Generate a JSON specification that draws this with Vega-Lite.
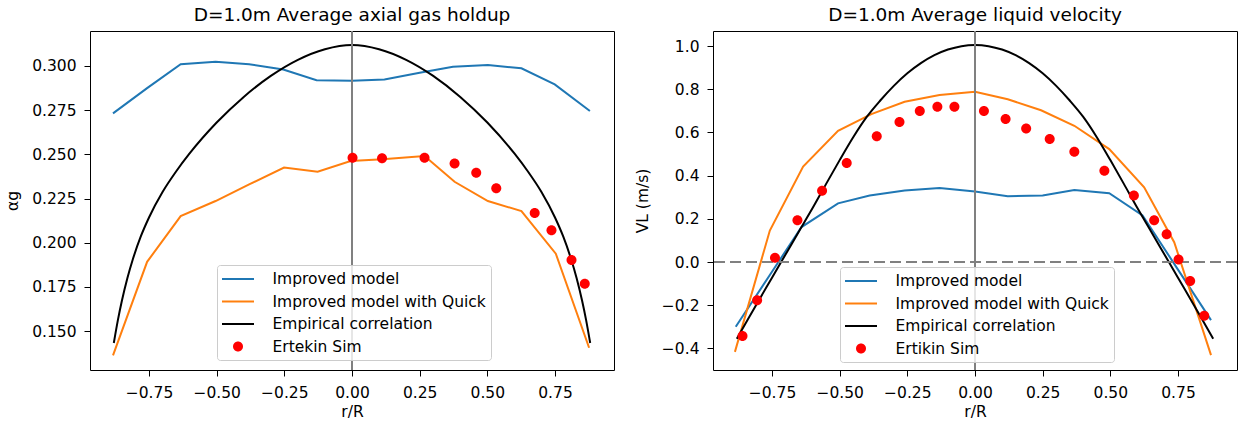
{
  "$schema": "https://vega.github.io/schema/vega-lite/v6.json",
  "padding": {"left": 5, "top": 5, "right": 0, "bottom": 0},
  "background": "white",
  "spacing": 99,
  "bounds": "flush",
  "resolve": {"scale": {"stroke": "independent", "fill": "independent", "shape": "independent"}, "legend": {"fill": "independent", "shape": "independent"}},
  "config": {
    "font": "DejaVu Sans",
    "view": {"stroke": "#000000", "strokeWidth": 1},
    "axis": {"domain": false, "grid": false, "tickColor": "#000000", "tickSize": 6, "tickWidth": 1,
      "labelFont": "DejaVu Sans", "labelFontSize": 15.5, "labelColor": "#000000",
      "titleFont": "DejaVu Sans", "titleFontSize": 15.5, "titleFontWeight": "normal", "titleColor": "#000000",
      "labelFlush": false, "labelOverlap": false, "labelBound": false},
    "axisY": {"titlePadding": 11, "labelPadding": 8},
    "axisX": {"titlePadding": 4, "labelPadding": 9},
    "title": {"font": "DejaVu Sans", "fontSize": 18.5, "fontWeight": "normal", "color": "#000000", "offset": 6, "frame": "group"},
    "legend": {"labelFont": "DejaVu Sans", "labelFontSize": 15.5, "labelColor": "#000000", "symbolSize": 361,
      "symbolStrokeWidth": 0, "strokeColor": "#cccccc", "strokeWidth": 1, "fillColor": "rgba(255,255,255,0.8)", "padding": 4.5,
      "rowPadding": 4.5, "symbolOffset": 7, "labelOffset": 25, "cornerRadius": 3, "labelLimit": 400, "symbolOpacity": 1}
  },
  "hconcat": [
    {
      "width": 524,
      "height": 339,
      "title": {"text": "D=1.0m Average axial gas holdup"},
      "layer": [
        {
          "data": {"values": [
            {"x": -0.883, "y": 0.2732, "s": "Improved model"},
            {"x": -0.757, "y": 0.2875, "s": "Improved model"},
            {"x": -0.633, "y": 0.3010, "s": "Improved model"},
            {"x": -0.504, "y": 0.3024, "s": "Improved model"},
            {"x": -0.380, "y": 0.3010, "s": "Improved model"},
            {"x": -0.254, "y": 0.2980, "s": "Improved model"},
            {"x": -0.131, "y": 0.2919, "s": "Improved model"},
            {"x": 0.000, "y": 0.2917, "s": "Improved model"},
            {"x": 0.120, "y": 0.2923, "s": "Improved model"},
            {"x": 0.250, "y": 0.2962, "s": "Improved model"},
            {"x": 0.373, "y": 0.2996, "s": "Improved model"},
            {"x": 0.502, "y": 0.3006, "s": "Improved model"},
            {"x": 0.626, "y": 0.2987, "s": "Improved model"},
            {"x": 0.749, "y": 0.2896, "s": "Improved model"},
            {"x": 0.879, "y": 0.2745, "s": "Improved model"},
            {"x": -0.883, "y": 0.1363, "s": "Improved model with Quick"},
            {"x": -0.757, "y": 0.1892, "s": "Improved model with Quick"},
            {"x": -0.633, "y": 0.2151, "s": "Improved model with Quick"},
            {"x": -0.504, "y": 0.2236, "s": "Improved model with Quick"},
            {"x": -0.380, "y": 0.2330, "s": "Improved model with Quick"},
            {"x": -0.251, "y": 0.2425, "s": "Improved model with Quick"},
            {"x": -0.127, "y": 0.2402, "s": "Improved model with Quick"},
            {"x": -0.005, "y": 0.2462, "s": "Improved model with Quick"},
            {"x": 0.113, "y": 0.2472, "s": "Improved model with Quick"},
            {"x": 0.268, "y": 0.2491, "s": "Improved model with Quick"},
            {"x": 0.379, "y": 0.2345, "s": "Improved model with Quick"},
            {"x": 0.502, "y": 0.2236, "s": "Improved model with Quick"},
            {"x": 0.626, "y": 0.2179, "s": "Improved model with Quick"},
            {"x": 0.753, "y": 0.1938, "s": "Improved model with Quick"},
            {"x": 0.876, "y": 0.1406, "s": "Improved model with Quick"}
          ]},
          "mark": {"type": "line", "strokeWidth": 2},
          "encoding": {
            "x": {"field": "x", "type": "quantitative", "scale": {"domain": [-0.968, 0.968], "nice": false, "zero": false},
              "axis": {"title": "r/R", "values": [-0.75, -0.5, -0.25, 0, 0.25, 0.5, 0.75], "format": ".2f"}},
            "y": {"field": "y", "type": "quantitative", "scale": {"domain": [0.128, 0.3198], "nice": false, "zero": false},
              "axis": {"title": "αg", "values": [0.15, 0.175, 0.2, 0.225, 0.25, 0.275, 0.3], "format": ".3f"}},
            "stroke": {"field": "s", "type": "nominal",
              "scale": {"domain": ["Improved model", "Improved model with Quick", "Empirical correlation"], "range": ["#1f77b4", "#ff7f0e", "#000000"]},
              "legend": null}
          }
        },
        {
          "data": {"values": [
            {"x": -0.880, "y": 0.1433, "s": "Empirical correlation"},
            {"x": -0.865, "y": 0.1562, "s": "Empirical correlation"},
            {"x": -0.850, "y": 0.1673, "s": "Empirical correlation"},
            {"x": -0.830, "y": 0.1799, "s": "Empirical correlation"},
            {"x": -0.810, "y": 0.1905, "s": "Empirical correlation"},
            {"x": -0.780, "y": 0.2037, "s": "Empirical correlation"},
            {"x": -0.750, "y": 0.2143, "s": "Empirical correlation"},
            {"x": -0.700, "y": 0.2287, "s": "Empirical correlation"},
            {"x": -0.650, "y": 0.2403, "s": "Empirical correlation"},
            {"x": -0.600, "y": 0.2505, "s": "Empirical correlation"},
            {"x": -0.500, "y": 0.2680, "s": "Empirical correlation"},
            {"x": -0.400, "y": 0.2825, "s": "Empirical correlation"},
            {"x": -0.300, "y": 0.2944, "s": "Empirical correlation"},
            {"x": -0.200, "y": 0.3035, "s": "Empirical correlation"},
            {"x": -0.100, "y": 0.3095, "s": "Empirical correlation"},
            {"x": 0.000, "y": 0.3119, "s": "Empirical correlation"},
            {"x": 0.100, "y": 0.3095, "s": "Empirical correlation"},
            {"x": 0.200, "y": 0.3035, "s": "Empirical correlation"},
            {"x": 0.300, "y": 0.2944, "s": "Empirical correlation"},
            {"x": 0.400, "y": 0.2825, "s": "Empirical correlation"},
            {"x": 0.500, "y": 0.2680, "s": "Empirical correlation"},
            {"x": 0.600, "y": 0.2505, "s": "Empirical correlation"},
            {"x": 0.650, "y": 0.2403, "s": "Empirical correlation"},
            {"x": 0.700, "y": 0.2287, "s": "Empirical correlation"},
            {"x": 0.750, "y": 0.2143, "s": "Empirical correlation"},
            {"x": 0.780, "y": 0.2037, "s": "Empirical correlation"},
            {"x": 0.810, "y": 0.1905, "s": "Empirical correlation"},
            {"x": 0.830, "y": 0.1799, "s": "Empirical correlation"},
            {"x": 0.850, "y": 0.1673, "s": "Empirical correlation"},
            {"x": 0.865, "y": 0.1562, "s": "Empirical correlation"},
            {"x": 0.880, "y": 0.1433, "s": "Empirical correlation"}
          ]},
          "mark": {"type": "line", "strokeWidth": 2, "interpolate": "monotone"},
          "encoding": {
            "x": {"field": "x", "type": "quantitative"},
            "y": {"field": "y", "type": "quantitative"},
            "stroke": {"field": "s", "type": "nominal", "legend": null}
          }
        },
        {
          "data": {"values": [{"v": 0}]},
          "mark": {"type": "rule", "color": "#808080", "strokeWidth": 2},
          "encoding": {"x": {"field": "v", "type": "quantitative"}}
        },
        {
          "data": {"values": [
            {"x": 0.002, "y": 0.2481, "s": "Ertekin Sim"},
            {"x": 0.111, "y": 0.2478, "s": "Ertekin Sim"},
            {"x": 0.268, "y": 0.2481, "s": "Ertekin Sim"},
            {"x": 0.379, "y": 0.2449, "s": "Ertekin Sim"},
            {"x": 0.459, "y": 0.2396, "s": "Ertekin Sim"},
            {"x": 0.533, "y": 0.2308, "s": "Ertekin Sim"},
            {"x": 0.675, "y": 0.2168, "s": "Ertekin Sim"},
            {"x": 0.737, "y": 0.2070, "s": "Ertekin Sim"},
            {"x": 0.811, "y": 0.1902, "s": "Ertekin Sim"},
            {"x": 0.860, "y": 0.1768, "s": "Ertekin Sim"}
          ]},
          "mark": {"type": "point", "filled": true, "size": 361, "opacity": 1, "strokeWidth": 0},
          "encoding": {
            "x": {"field": "x", "type": "quantitative"},
            "y": {"field": "y", "type": "quantitative"},
            "fill": {"field": "s", "type": "nominal",
              "scale": {"domain": ["Improved model", "Improved model with Quick", "Empirical correlation", "Ertekin Sim"], "range": ["#1f77b4", "#ff7f0e", "#000000", "#ff0000"]},
              "legend": {"orient": "none", "legendX": 127, "legendY": 234, "title": null}},
            "shape": {"field": "s", "type": "nominal",
              "scale": {"domain": ["Improved model", "Improved model with Quick", "Empirical correlation", "Ertekin Sim"],
                "range": ["M-1.684,-0.105H1.684V0.105H-1.684Z", "M-1.684,-0.105H1.684V0.105H-1.684Z", "M-1.684,-0.105H1.684V0.105H-1.684Z", "M-0.526,0A0.526,0.526 0 1,1 0.526,0A0.526,0.526 0 1,1 -0.526,0Z"]},
              "legend": {"orient": "none", "legendX": 127, "legendY": 234, "title": null}}
          }
        }
      ]
    },
    {
      "width": 524,
      "height": 339,
      "title": {"text": "D=1.0m Average liquid velocity"},
      "layer": [
        {
          "data": {"values": [
            {"x": -0.884, "y": -0.300, "s": "Improved model"},
            {"x": -0.758, "y": -0.060, "s": "Improved model"},
            {"x": -0.641, "y": 0.162, "s": "Improved model"},
            {"x": -0.506, "y": 0.272, "s": "Improved model"},
            {"x": -0.389, "y": 0.308, "s": "Improved model"},
            {"x": -0.260, "y": 0.331, "s": "Improved model"},
            {"x": -0.131, "y": 0.343, "s": "Improved model"},
            {"x": 0.000, "y": 0.327, "s": "Improved model"},
            {"x": 0.121, "y": 0.305, "s": "Improved model"},
            {"x": 0.250, "y": 0.308, "s": "Improved model"},
            {"x": 0.367, "y": 0.334, "s": "Improved model"},
            {"x": 0.496, "y": 0.319, "s": "Improved model"},
            {"x": 0.619, "y": 0.216, "s": "Improved model"},
            {"x": 0.750, "y": -0.035, "s": "Improved model"},
            {"x": 0.872, "y": -0.269, "s": "Improved model"},
            {"x": -0.887, "y": -0.416, "s": "Improved model with Quick"},
            {"x": -0.758, "y": 0.146, "s": "Improved model with Quick"},
            {"x": -0.635, "y": 0.442, "s": "Improved model with Quick"},
            {"x": -0.506, "y": 0.608, "s": "Improved model with Quick"},
            {"x": -0.383, "y": 0.685, "s": "Improved model with Quick"},
            {"x": -0.260, "y": 0.742, "s": "Improved model with Quick"},
            {"x": -0.131, "y": 0.774, "s": "Improved model with Quick"},
            {"x": 0.000, "y": 0.789, "s": "Improved model with Quick"},
            {"x": 0.121, "y": 0.754, "s": "Improved model with Quick"},
            {"x": 0.244, "y": 0.703, "s": "Improved model with Quick"},
            {"x": 0.367, "y": 0.631, "s": "Improved model with Quick"},
            {"x": 0.496, "y": 0.523, "s": "Improved model with Quick"},
            {"x": 0.625, "y": 0.346, "s": "Improved model with Quick"},
            {"x": 0.736, "y": 0.092, "s": "Improved model with Quick"},
            {"x": 0.872, "y": -0.431, "s": "Improved model with Quick"}
          ]},
          "mark": {"type": "line", "strokeWidth": 2},
          "encoding": {
            "x": {"field": "x", "type": "quantitative", "scale": {"domain": [-0.968, 0.968], "nice": false, "zero": false},
              "axis": {"title": "r/R", "values": [-0.75, -0.5, -0.25, 0, 0.25, 0.5, 0.75], "format": ".2f"}},
            "y": {"field": "y", "type": "quantitative", "scale": {"domain": [-0.5, 1.07], "nice": false, "zero": false},
              "axis": {"title": "VL  (m/s)", "values": [-0.4, -0.2, 0, 0.2, 0.4, 0.6, 0.8, 1.0], "format": ".1f"}},
            "stroke": {"field": "s", "type": "nominal",
              "scale": {"domain": ["Improved model", "Improved model with Quick", "Empirical correlation"], "range": ["#1f77b4", "#ff7f0e", "#000000"]},
              "legend": null}
          }
        },
        {
          "data": {"values": [
            {"x": -0.880, "y": -0.355, "s": "Empirical correlation"},
            {"x": -0.840, "y": -0.267, "s": "Empirical correlation"},
            {"x": -0.800, "y": -0.180, "s": "Empirical correlation"},
            {"x": -0.750, "y": -0.073, "s": "Empirical correlation"},
            {"x": -0.700, "y": 0.035, "s": "Empirical correlation"},
            {"x": -0.650, "y": 0.143, "s": "Empirical correlation"},
            {"x": -0.600, "y": 0.250, "s": "Empirical correlation"},
            {"x": -0.550, "y": 0.362, "s": "Empirical correlation"},
            {"x": -0.500, "y": 0.472, "s": "Empirical correlation"},
            {"x": -0.450, "y": 0.578, "s": "Empirical correlation"},
            {"x": -0.400, "y": 0.672, "s": "Empirical correlation"},
            {"x": -0.350, "y": 0.748, "s": "Empirical correlation"},
            {"x": -0.300, "y": 0.816, "s": "Empirical correlation"},
            {"x": -0.250, "y": 0.874, "s": "Empirical correlation"},
            {"x": -0.200, "y": 0.921, "s": "Empirical correlation"},
            {"x": -0.150, "y": 0.958, "s": "Empirical correlation"},
            {"x": -0.100, "y": 0.984, "s": "Empirical correlation"},
            {"x": -0.050, "y": 0.9998, "s": "Empirical correlation"},
            {"x": 0.000, "y": 1.005, "s": "Empirical correlation"},
            {"x": 0.050, "y": 0.9998, "s": "Empirical correlation"},
            {"x": 0.100, "y": 0.984, "s": "Empirical correlation"},
            {"x": 0.150, "y": 0.958, "s": "Empirical correlation"},
            {"x": 0.200, "y": 0.921, "s": "Empirical correlation"},
            {"x": 0.250, "y": 0.874, "s": "Empirical correlation"},
            {"x": 0.300, "y": 0.816, "s": "Empirical correlation"},
            {"x": 0.350, "y": 0.748, "s": "Empirical correlation"},
            {"x": 0.400, "y": 0.672, "s": "Empirical correlation"},
            {"x": 0.450, "y": 0.578, "s": "Empirical correlation"},
            {"x": 0.500, "y": 0.472, "s": "Empirical correlation"},
            {"x": 0.550, "y": 0.362, "s": "Empirical correlation"},
            {"x": 0.600, "y": 0.250, "s": "Empirical correlation"},
            {"x": 0.650, "y": 0.143, "s": "Empirical correlation"},
            {"x": 0.700, "y": 0.035, "s": "Empirical correlation"},
            {"x": 0.750, "y": -0.073, "s": "Empirical correlation"},
            {"x": 0.800, "y": -0.180, "s": "Empirical correlation"},
            {"x": 0.840, "y": -0.267, "s": "Empirical correlation"},
            {"x": 0.880, "y": -0.355, "s": "Empirical correlation"}
          ]},
          "mark": {"type": "line", "strokeWidth": 2, "interpolate": "monotone"},
          "encoding": {
            "x": {"field": "x", "type": "quantitative"},
            "y": {"field": "y", "type": "quantitative"},
            "stroke": {"field": "s", "type": "nominal", "legend": null}
          }
        },
        {
          "data": {"values": [{"v": 0}]},
          "mark": {"type": "rule", "color": "#808080", "strokeWidth": 2},
          "encoding": {"x": {"field": "v", "type": "quantitative"}}
        },
        {
          "data": {"values": [{"v": 0}]},
          "mark": {"type": "rule", "color": "#808080", "strokeWidth": 2, "strokeDash": [11, 5]},
          "encoding": {"y": {"field": "v", "type": "quantitative"}}
        },
        {
          "data": {"values": [
            {"x": -0.859, "y": -0.343, "s": "Ertikin Sim"},
            {"x": -0.805, "y": -0.177, "s": "Ertikin Sim"},
            {"x": -0.739, "y": 0.020, "s": "Ertikin Sim"},
            {"x": -0.656, "y": 0.193, "s": "Ertikin Sim"},
            {"x": -0.565, "y": 0.330, "s": "Ertikin Sim"},
            {"x": -0.474, "y": 0.459, "s": "Ertikin Sim"},
            {"x": -0.363, "y": 0.582, "s": "Ertikin Sim"},
            {"x": -0.279, "y": 0.648, "s": "Ertikin Sim"},
            {"x": -0.204, "y": 0.699, "s": "Ertikin Sim"},
            {"x": -0.139, "y": 0.719, "s": "Ertikin Sim"},
            {"x": -0.076, "y": 0.719, "s": "Ertikin Sim"},
            {"x": 0.033, "y": 0.700, "s": "Ertikin Sim"},
            {"x": 0.113, "y": 0.662, "s": "Ertikin Sim"},
            {"x": 0.189, "y": 0.619, "s": "Ertikin Sim"},
            {"x": 0.276, "y": 0.570, "s": "Ertikin Sim"},
            {"x": 0.367, "y": 0.511, "s": "Ertikin Sim"},
            {"x": 0.478, "y": 0.423, "s": "Ertikin Sim"},
            {"x": 0.587, "y": 0.308, "s": "Ertikin Sim"},
            {"x": 0.662, "y": 0.193, "s": "Ertikin Sim"},
            {"x": 0.708, "y": 0.129, "s": "Ertikin Sim"},
            {"x": 0.752, "y": 0.012, "s": "Ertikin Sim"},
            {"x": 0.795, "y": -0.088, "s": "Ertikin Sim"},
            {"x": 0.847, "y": -0.249, "s": "Ertikin Sim"}
          ]},
          "mark": {"type": "point", "filled": true, "size": 361, "opacity": 1, "strokeWidth": 0},
          "encoding": {
            "x": {"field": "x", "type": "quantitative"},
            "y": {"field": "y", "type": "quantitative"},
            "fill": {"field": "s", "type": "nominal",
              "scale": {"domain": ["Improved model", "Improved model with Quick", "Empirical correlation", "Ertikin Sim"], "range": ["#1f77b4", "#ff7f0e", "#000000", "#ff0000"]},
              "legend": {"orient": "none", "legendX": 127, "legendY": 236, "title": null}},
            "shape": {"field": "s", "type": "nominal",
              "scale": {"domain": ["Improved model", "Improved model with Quick", "Empirical correlation", "Ertikin Sim"],
                "range": ["M-1.684,-0.105H1.684V0.105H-1.684Z", "M-1.684,-0.105H1.684V0.105H-1.684Z", "M-1.684,-0.105H1.684V0.105H-1.684Z", "M-0.526,0A0.526,0.526 0 1,1 0.526,0A0.526,0.526 0 1,1 -0.526,0Z"]},
              "legend": {"orient": "none", "legendX": 127, "legendY": 236, "title": null}}
          }
        }
      ]
    }
  ]
}
